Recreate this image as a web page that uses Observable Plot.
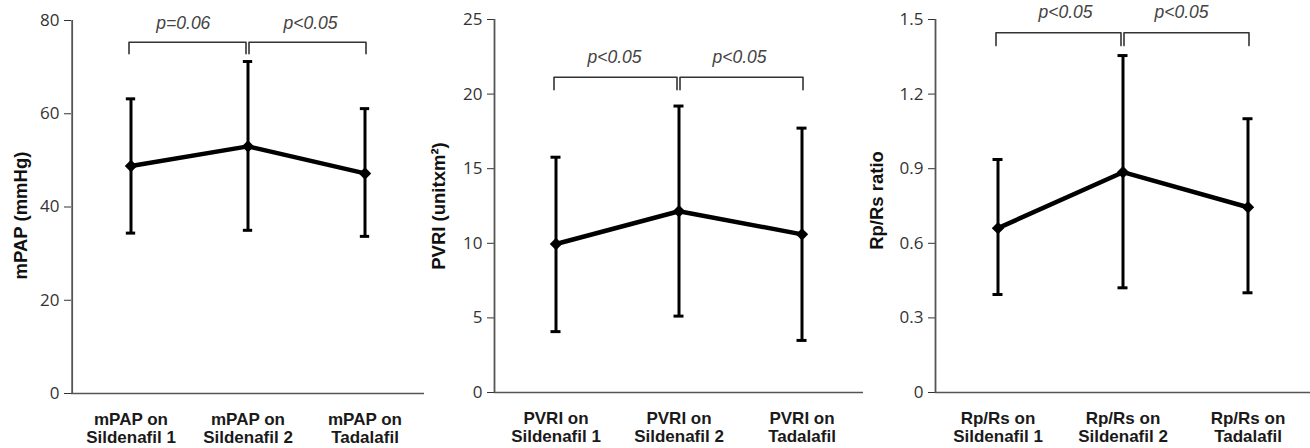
<!DOCTYPE html>
<html><head><meta charset="utf-8">
<script src="https://cdn.jsdelivr.net/npm/d3@7"></script>
<script src="https://cdn.jsdelivr.net/npm/@observablehq/plot@0.6"></script>
<style>
body{margin:0;background:#fff;}
#wrap{position:relative;width:1310px;height:448px;overflow:hidden;background:#fff;}
#wrap > svg{position:absolute;top:0;overflow:visible;}
</style></head><body><div id="wrap"></div>
<script>
// Treatments (x categories)
const treatments = ["Sildenafil 1", "Sildenafil 2", "Tadalafil"];

// Panel 1: mPAP (mmHg)
const mpapMean = [48.8, 53.0, 47.2];
const mpapLow  = [34.4, 35.0, 33.7];
const mpapHigh = [63.2, 71.2, 61.1];
const mpapTicks = [0, 20, 40, 60, 80];
const mpapP = ["p=0.06", "p<0.05"];

// Panel 2: PVRI (unit x m²)
const pvriMean = [9.95, 12.15, 10.6];
const pvriLow  = [4.08, 5.12, 3.49];
const pvriHigh = [15.77, 19.2, 17.72];
const pvriTicks = [0, 5, 10, 15, 20, 25];
const pvriP = ["p<0.05", "p<0.05"];

// Panel 3: Rp/Rs ratio
const rpMean = [0.661, 0.886, 0.745];
const rpLow  = [0.394, 0.421, 0.401];
const rpHigh = [0.937, 1.355, 1.101];
const rpTicks = [0, 0.3, 0.6, 0.9, 1.2, 1.5];
const rpP = ["p<0.05", "p<0.05"];

// Significance brackets: [from, to] category indices
const bracketPairs = [[0, 1], [1, 2]];

const SANS = "'Liberation Sans', Arial, sans-serif";
const TICKFONT = "'Open Sans', 'Liberation Sans', sans-serif";

function panel(o) {
  const data = treatments.map((t, i) => ({t, mean: o.mean[i], lo: o.low[i], hi: o.high[i]}));
  const bw = (o.width - o.ml - o.mr) / treatments.length;
  const capInset = bw / 2 - 5;
  const bracketMarks = bracketPairs.map(([a, b], i) => {
    const pts = [
      {t: treatments[a], y: o.bEnd},
      {t: treatments[a], y: o.bTop},
      {t: treatments[b], y: o.bTop},
      {t: treatments[b], y: o.bEnd}
    ];
    return Plot.line(pts, {x: "t", y: "y", stroke: "#333", strokeWidth: 1.6, strokeLinejoin: "round", dx: i === 0 ? -2 : 1});
  });
  const pMarks = bracketPairs.map(([a, b], i) =>
    Plot.text([{t: treatments[a], y: o.textY, s: o.p[i]}], {
      x: "t", y: "y", text: "s", dx: bw / 2 + o.textDx[i],
      fontSize: 17.5, fontStyle: "italic", fontFamily: SANS, fill: "#444",
      textAnchor: "middle", lineAnchor: "middle"
    })
  );
  const svg = Plot.plot({
    width: o.width, height: 448,
    marginLeft: o.ml, marginRight: o.mr, marginTop: o.mt, marginBottom: o.mb,
    style: {background: "transparent", overflow: "visible"},
    x: {type: "band", domain: treatments, padding: 0},
    y: {domain: [0, o.yMax]},
    marks: [
      Plot.axisY({ticks: o.ticks, tickSize: 7, tickPadding: 5, tickFormat: d => String(d),
        fontSize: 17, fontFamily: TICKFONT, color: "#333", label: null}),
      Plot.axisX({tickSize: 0, tickPadding: 19, tickFormat: d => `${o.prefix} on\n${d}`,
        fontSize: 17, fontWeight: "bold", fontFamily: SANS, lineHeight: 1.06, color: "#1a1a1a", label: null}),
      Plot.ruleY([0], {stroke: "#555", strokeWidth: 1.6}),
      Plot.ruleX([treatments[0]], {y1: 0, y2: o.yMax, dx: -bw / 2, stroke: "#555", strokeWidth: 1.8}),
      Plot.text([o.title], {frameAnchor: "left", dx: o.titleDx, dy: o.titleDy, rotate: -90,
        textAnchor: "middle", lineAnchor: "middle", fontSize: 18.5, fontWeight: "bold", fontFamily: SANS, fill: "#111"}),
      ...bracketMarks,
      ...pMarks,
      Plot.ruleX(data, {x: "t", y1: "lo", y2: "hi", stroke: "#000", strokeWidth: 3}),
      Plot.tickY(data, {x: "t", y: "hi", stroke: "#000", strokeWidth: 3, insetLeft: capInset, insetRight: capInset}),
      Plot.tickY(data, {x: "t", y: "lo", stroke: "#000", strokeWidth: 3, insetLeft: capInset, insetRight: capInset}),
      Plot.line(data, {x: "t", y: "mean", stroke: "#000", strokeWidth: 4.5, strokeLinejoin: "round"}),
      Plot.dot(data, {x: "t", y: "mean", symbol: "diamond2", r: 5.6, fill: "#000", stroke: "none"})
    ]
  });
  svg.style.left = o.left + "px";
  document.getElementById("wrap").appendChild(svg);
}

panel({left: 0, width: 430, ml: 71, mr: 6, mt: 20, mb: 55, yMax: 80, ticks: mpapTicks,
  mean: mpapMean, low: mpapLow, high: mpapHigh, p: mpapP, prefix: "mPAP",
  title: "mPAP (mmHg)", titleDx: -50, titleDy: 8.5,
  bTop: 75.35, bEnd: 72.86, textY: 79.3, textDx: [-6.5, 3.7]});

panel({left: 430, width: 440, ml: 64, mr: 7, mt: 19, mb: 56, yMax: 25, ticks: pvriTicks,
  mean: pvriMean, low: pvriLow, high: pvriHigh, p: pvriP, prefix: "PVRI",
  title: "PVRI (unitxm²)", titleDx: -55, titleDy: 0,
  bTop: 21.13, bEnd: 20.29, textY: 22.45, textDx: [-3, -1]});

panel({left: 870, width: 440, ml: 65, mr: 0, mt: 19, mb: 56, yMax: 1.5, ticks: rpTicks,
  mean: rpMean, low: rpLow, high: rpHigh, p: rpP, prefix: "Rp/Rs",
  title: "Rp/Rs ratio", titleDx: -58, titleDy: -5.5,
  bTop: 1.4465, bEnd: 1.395, textY: 1.528, textDx: [5, -4]});
</script>
</body></html>
